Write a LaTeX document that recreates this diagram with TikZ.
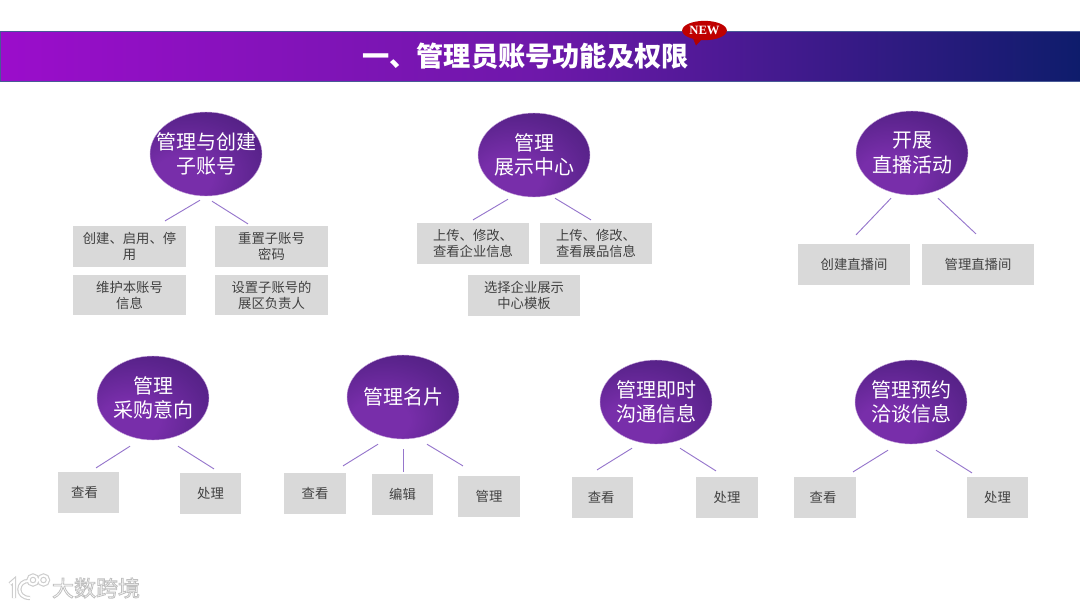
\documentclass[tikz,border=0pt]{standalone}
\usepackage{fontspec}
\setmainfont{Noto Sans CJK SC}
\newfontfamily\badgefont{Liberation Serif}
\usepackage{xcolor}
\usetikzlibrary{calc,shapes.geometric}
\definecolor{cBandL}{RGB}{155,13,203}
\definecolor{cBandM}{RGB}{110,24,170}
\definecolor{cBandR}{RGB}{14,28,108}
\definecolor{cBandE}{RGB}{72,90,150}
\definecolor{cHubL}{RGB}{120,46,170}
\definecolor{cHubM}{RGB}{92,36,142}
\definecolor{cHubD}{RGB}{64,26,110}
\definecolor{cLeaf}{RGB}{217,217,217}
\definecolor{cLink}{RGB}{150,118,204}
\definecolor{cText}{RGB}{64,64,64}
\definecolor{cMark}{RGB}{205,205,205}
\pgfdeclareradialshading{hubglow}{\pgfpoint{-12bp}{-16bp}}{color(0bp)=(cHubL); color(13bp)=(cHubL); color(32bp)=(cHubM); color(56bp)=(cHubD); color(100bp)=(cHubD)}
\newcommand{\halotext}[1]{\special{pdf:code q 2 Tr 0.6 w 0.75 0.75 0.75 RG 1 1 1 rg}#1\special{pdf:code Q}}
\tikzset{
  band/.style={draw=cBandE, left color=cBandL, right color=cBandR, middle color=cBandM,
               minimum width=810pt, minimum height=37.5pt, inner sep=0pt},
  hub/.style={ellipse, draw=cHubL!40, line width=0.3pt, shading=hubglow, minimum width=84pt, minimum height=63pt,
              inner sep=-10pt, align=center, text=white, font=\fontsize{15}{18.2}\selectfont},
  leaf/.style={fill=cLeaf, minimum width=84.5pt, minimum height=30.5pt, inner sep=0pt,
               align=center, text=cText, font=\fontsize{10}{12}\selectfont},
  leafs/.style={leaf, minimum width=46pt},
  link/.style={draw=cLink, line width=0.7pt},
  markw/.style={font=\fontsize{16.5}{18}\selectfont, inner sep=0pt},
  logol/.style={draw=white, line width=1.5pt},
  logos/.style={draw=cMark, line width=3.2pt},
}
\begin{document}
\begin{tikzpicture}[x=0.75pt,y=-0.75pt]
  \useasboundingbox (0,0) rectangle (1080,608);
  % ---- title bar ----
  \node[band] (bar) at (540,56) {};
  \node[text=white, font=\fontsize{20.4}{24}\selectfont\bfseries] (title) at (525.5,56) {一、管理员账号功能及权限};
  \fill[red!70!black] (692,36) -- (696,45.5) -- (703,38) -- cycle;
  \node[ellipse, fill=red!75!black, minimum width=33.5pt, minimum height=14.5pt, inner sep=0pt,
        text=white, font=\fontsize{9.5}{10}\badgefont\bfseries] (new) at (704.5,30.5) {NEW};

  % ---- top row ----
  \node[hub] (acc) at (206,154) {管理与创建\\子账号};
  \node[leaf] (acc1) at (129.5,246.5) {创建、启用、停\\用};
  \node[leaf] (acc2) at (271.5,246.5) {重置子账号\\密码};
  \node[leaf] (acc3) at (129.5,295) {维护本账号\\信息};
  \node[leaf] (acc4) at (271.5,295) {设置子账号的\\展区负责人};
  \draw[link] ($(acc.south)+(-6,4)$) -- ($(acc1.north)+(35.5,-5)$);
  \draw[link] ($(acc.south)+(6,5)$) -- ($(acc2.north)+(-23.5,-2)$);

  \node[hub] (hall) at (534,155) {管理\\展示中心};
  \node[leaf] (hall1) at (473,243.5) {上传、修改、\\查看企业信息};
  \node[leaf] (hall2) at (596,243.5) {上传、修改、\\查看展品信息};
  \node[leaf] (hall3) at (524,295.5) {选择企业展示\\中心模板};
  \draw[link] ($(hall.south)+(-26,2)$) -- ($(hall1.north)+(0,-3)$);
  \draw[link] ($(hall.south)+(21,1)$) -- ($(hall2.north)+(-5,-3)$);

  \node[hub] (live) at (912,153) {开展\\直播活动};
  \node[leaf] (live1) at (854,264.5) {创建直播间};
  \node[leaf] (live2) at (978,264.5) {管理直播间};
  \draw[link] ($(live.south)+(-21,3)$) -- ($(live1.north)+(2,-9)$);
  \draw[link] ($(live.south)+(26,3)$) -- ($(live2.north)+(-2,-10)$);

  % ---- bottom row ----
  \node[hub] (buy) at (153,398) {管理\\采购意向};
  \node[leafs] (buy1) at (88.5,492.5) {\hspace*{-6pt}查看};
  \node[leafs] (buy2) at (210.5,493.5) {处理};
  \draw[link] ($(buy.south)+(-23,6)$) -- ($(buy1.north)+(7.5,-4)$);
  \draw[link] ($(buy.south)+(25,6)$) -- ($(buy2.north)+(3.5,-4)$);

  \node[hub] (card) at (403,397) {管理名片};
  \node[leafs] (card1) at (315,493.5) {查看};
  \node[leafs] (card2) at (402.5,494.5) {编辑};
  \node[leafs] (card3) at (489,496.5) {管理};
  \draw[link] ($(card.south)+(-25,5)$) -- ($(card1.north)+(28,-7)$);
  \draw[link] ($(card.south)+(0,10)$) -- ($(card2.north)+(0.5,-2)$);
  \draw[link] ($(card.south)+(24,5)$) -- ($(card3.north)+(-26,-10)$);

  \node[hub] (chat) at (656,402) {管理即时\\沟通信息};
  \node[leafs] (chat1) at (602.5,497.5) {\hspace*{-2pt}查看};
  \node[leafs] (chat2) at (727,497.5) {处理};
  \draw[link] ($(chat.south)+(-24,4)$) -- ($(chat1.north)+(-5.5,-7)$);
  \draw[link] ($(chat.south)+(24,4)$) -- ($(chat2.north)+(-11,-6)$);

  \node[hub] (meet) at (911,402) {管理预约\\洽谈信息};
  \node[leafs] (meet1) at (825,497.5) {\hspace*{-3pt}查看};
  \node[leafs] (meet2) at (997.5,497.5) {处理};
  \draw[link] ($(meet.south)+(-23,6)$) -- ($(meet1.north)+(28,-5)$);
  \draw[link] ($(meet.south)+(25,6)$) -- ($(meet2.north)+(-25.5,-4)$);

  % ---- watermark ----
  \foreach \st in {logos,logol}{
    \draw[\st] (10,584) -- (14,580.5) -- (14,598);
    \draw[\st] (29,581) .. controls (17,580) and (15,598) .. (30,598);
    \draw[\st] (33,580) circle (4.5);
    \draw[\st] (43.5,580) circle (4.5);
  }
  \node[markw] (mark) at (96,588) {\halotext{大数跨境}};
\end{tikzpicture}
\end{document}
